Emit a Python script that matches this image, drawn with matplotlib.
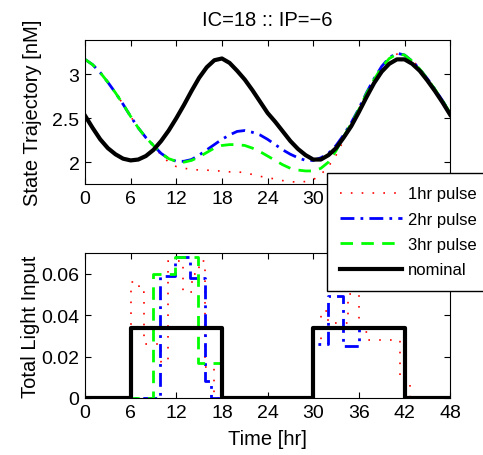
import numpy as np
import matplotlib.pyplot as plt

plt.rcParams['font.family'] = ['Liberation Sans', 'DejaVu Sans']

# state trajectories, hourly samples 0..48 hr
hours = np.arange(0, 49)
nominal_state = [2.53, 2.39, 2.26, 2.16, 2.09, 2.04, 2.02, 2.03, 2.07, 2.14,
                 2.24, 2.36, 2.50, 2.65, 2.81, 2.96, 3.08, 3.16, 3.18, 3.13,
                 3.04, 2.94, 2.82, 2.69, 2.56, 2.46, 2.35, 2.24, 2.15, 2.08,
                 2.03, 2.03, 2.08, 2.16, 2.28, 2.41, 2.57, 2.74, 2.90, 3.03,
                 3.12, 3.17, 3.17, 3.12, 3.04, 2.93, 2.81, 2.68, 2.54]
start_state = [3.17, 3.11, 3.02, 2.91, 2.79, 2.66, 2.52, 2.39, 2.28, 2.19]
pulse1_state = start_state + [2.08, 2.00, 1.95, 1.93, 1.92, 1.91, 1.91, 1.90, 1.90, 1.89,
                              1.89, 1.88, 1.86, 1.84, 1.82, 1.81, 1.79, 1.78, 1.77, 1.78,
                              1.80, 1.86, 1.95, 2.08, 2.25, 2.43, 2.60, 2.78, 2.94, 3.08,
                              3.18, 3.23, 3.22, 3.16, 3.07, 2.95, 2.83, 2.70, 2.56]
pulse2_state = start_state + [2.10, 2.04, 2.01, 2.01, 2.03, 2.08, 2.14, 2.20, 2.26, 2.31,
                              2.35, 2.36, 2.34, 2.31, 2.26, 2.20, 2.14, 2.09, 2.05, 2.02,
                              2.02, 2.05, 2.10, 2.19, 2.31, 2.45, 2.61, 2.79, 2.95, 3.09,
                              3.19, 3.24, 3.22, 3.15, 3.06, 2.95, 2.83, 2.70, 2.56]
pulse3_state = start_state + [2.10, 2.04, 2.01, 2.00, 2.02, 2.06, 2.11, 2.16, 2.19, 2.20,
                              2.20, 2.19, 2.16, 2.12, 2.07, 2.02, 1.97, 1.93, 1.91, 1.90,
                              1.90, 1.93, 2.00, 2.13, 2.29, 2.44, 2.60, 2.78, 2.94, 3.08,
                              3.18, 3.23, 3.22, 3.15, 3.06, 2.95, 2.83, 2.70, 2.56]

# light inputs, piecewise constant (switch times, level held until next switch)
nominal_t = [0, 6, 18, 30, 42, 48]
nominal_u = [0, 0.034, 0, 0.034, 0, 0]
pulse1_t = [0, 6, 7.1, 7.8, 10.0, 10.9, 12.9, 14.0, 15.0, 15.8, 16.9,
            30, 31, 32, 34.6, 36, 37.2, 41.4, 42.7, 48]
pulse1_u = [0, 0.056, 0.051, 0.026, 0.0175, 0.066, 0.051, 0.060, 0.066, 0.015, 0,
            0.028, 0.042, 0.036, 0.050, 0.032, 0.028, 0.008, 0, 0]
pulse2_t = [0, 9.9, 11.8, 13.8, 15.8, 16.5, 30, 31.9, 33.9, 36, 42, 48]
pulse2_u = [0, 0.059, 0.068, 0.058, 0.008, 0, 0.026, 0.049, 0.025, 0.034, 0, 0]
pulse3_t = [0, 9.0, 11.8, 14.9, 18, 30, 42, 48]
pulse3_u = [0, 0.060, 0.068, 0.017, 0, 0.034, 0, 0]

labels = ['1hr pulse', '2hr pulse', '3hr pulse', 'nominal']
colors = ['#ff0000', '#0000ff', '#00ff00', 'k']
styles = [(0, (1, 5.5)), (0, (5, 2.2, 1, 2.2)), (0, (4.5, 3)), '-']
widths = [1.2, 2.0, 2.0, 3.0]

fig = plt.figure(figsize=(4.83, 4.56), dpi=100)
ax1 = fig.add_axes([0.176, 0.594, 0.756, 0.316])
ax2 = fig.add_axes([0.176, 0.125, 0.756, 0.318])

states = [pulse1_state, pulse2_state, pulse3_state, nominal_state]
for s, c, ls, lw, lab in zip(states, colors, styles, widths, labels):
    ax1.plot(hours, s, color=c, linestyle=ls, linewidth=lw, label=lab)

inputs = [(pulse1_t, pulse1_u), (pulse2_t, pulse2_u),
          (pulse3_t, pulse3_u), (nominal_t, nominal_u)]
for (t, u), c, ls, lw in zip(inputs, colors, styles, widths):
    ax2.step(t, u, where='post', color=c, linestyle=ls, linewidth=lw)

ax1.set_xlim(0, 48)
ax1.set_ylim(1.75, 3.39)
ax1.set_yticks([2, 2.5, 3])
ax1.set_yticklabels(['2', '2.5', '3'])
ax2.set_xlim(0, 48)
ax2.set_ylim(0, 0.07)
ax2.set_yticks([0, 0.02, 0.04, 0.06])
ax2.set_yticklabels(['0', '0.02', '0.04', '0.06'])

for ax in (ax1, ax2):
    ax.set_xticks(np.arange(0, 49, 6))
    ax.tick_params(direction='in', top=True, right=True, labelsize=14,
                   length=4, width=0.8, pad=4)
    for sp in ax.spines.values():
        sp.set_linewidth(0.8)
# top-panel labels for 36..48 sit under the legend
ax1.set_xticklabels(['0', '6', '12', '18', '24', '30', '', '', ''])

ax1.set_title('IC=18 :: IP=\u22126', fontsize=14.5, pad=11)
ax1.set_ylabel('State Trajectory [nM]', fontsize=14.5)
ax2.set_ylabel('Total Light Input', fontsize=14.5)
ax2.set_xlabel('Time [hr]', fontsize=14.5, labelpad=6)
ax1.yaxis.set_label_coords(-0.118, 0.5)
ax2.yaxis.set_label_coords(-0.122, 0.5)

h, l = ax1.get_legend_handles_labels()
leg = fig.legend(h, l, loc='upper left', bbox_to_anchor=(327 / 483, 1 - 174 / 456),
                 borderaxespad=0, fontsize=12, handlelength=3.7, labelspacing=0.62,
                 borderpad=0.8, handletextpad=0.36, fancybox=False, framealpha=1,
                 edgecolor='k')
leg.get_frame().set_linewidth(1.0)

fig.savefig('out.png', dpi=100)
